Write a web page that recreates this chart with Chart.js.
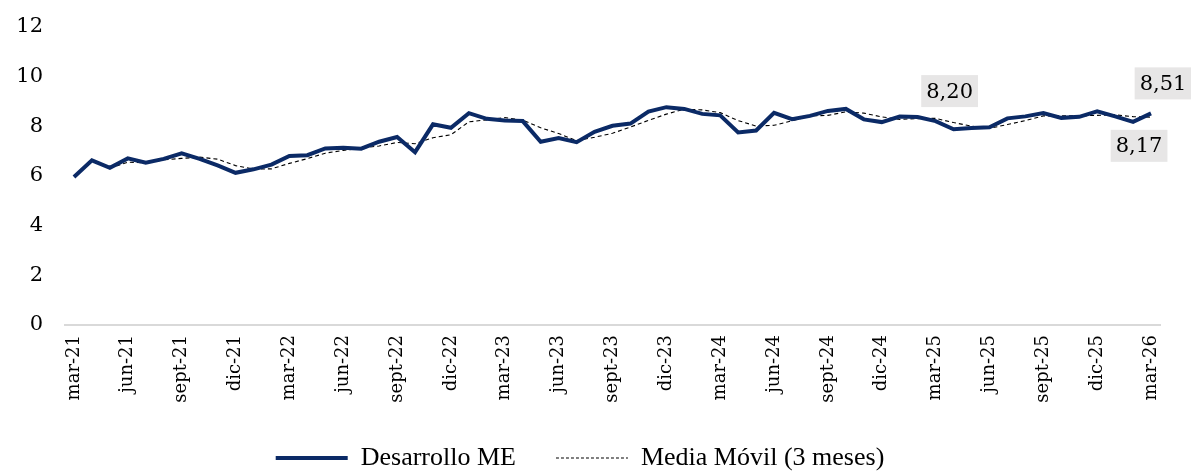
<!DOCTYPE html>
<html>
<head>
<meta charset="utf-8">
<script src="https://cdn.jsdelivr.net/npm/chart.js@4/dist/chart.umd.min.js"></script>
<style>
  html, body { margin: 0; padding: 0; background: #fff; }
  #wrap { width: 1191px; height: 472px; }
</style>
</head>
<body>
<div id="wrap"><canvas id="chart" width="1191" height="472"></canvas></div>
<script>
// Data
const months = ['ene', 'feb', 'mar', 'abr', 'may', 'jun', 'jul', 'ago', 'sept', 'oct', 'nov', 'dic'];
const labels = [];
for (let y = 21; y <= 26; y++) {
    months.forEach((m, k) => {
        if ((y === 21 && k < 2) || (y === 26 && k > 2)) return;
        labels.push(m + '-' + y);
    });
}

const desarrollo = [
    5.95, 6.62, 6.32, 6.70, 6.53, 6.68, 6.90, 6.68, 6.42, 6.12,
    6.26, 6.45, 6.80, 6.83, 7.10, 7.13, 7.09, 7.37, 7.56, 6.95,
    8.07, 7.93, 8.52, 8.29, 8.22, 8.20, 7.37, 7.52, 7.35, 7.77,
    8.01, 8.10, 8.58, 8.76, 8.69, 8.49, 8.43, 7.74, 7.82, 8.53,
    8.28, 8.41, 8.61, 8.69, 8.27, 8.16, 8.38, 8.36, 8.20, 7.87,
    7.92, 7.95, 8.31, 8.39, 8.52, 8.33, 8.37, 8.59, 8.39, 8.17,
    8.51
];

const mediaMovil = [
    null, null, 6.30, 6.55, 6.52, 6.64, 6.70, 6.75, 6.67, 6.41,
    6.27, 6.28, 6.50, 6.69, 6.91, 7.02, 7.11, 7.20, 7.34, 7.29,
    7.53, 7.65, 8.17, 8.25, 8.34, 8.24, 7.93, 7.70, 7.41, 7.55,
    7.71, 7.96, 8.23, 8.48, 8.68, 8.65, 8.54, 8.22, 8.00, 8.03,
    8.21, 8.41, 8.43, 8.57, 8.52, 8.37, 8.27, 8.30, 8.31, 8.14,
    8.00, 7.91, 8.06, 8.22, 8.41, 8.41, 8.41, 8.43, 8.45, 8.38,
    8.36
];

const yTicks = [0, 2, 4, 6, 8, 10, 12];

// Labelled points: index, text, offset
const callouts = [
    { i: 48, text: '8,20', dx: 14, dy: -30 },
    { i: 59, text: '8,17', dx: 6, dy: 24 },
    { i: 60, text: '8,51', dx: 12, dy: -30 }
];

const serif = "'DejaVu Serif', serif";

const calloutPlugin = {
    id: 'callouts',
    afterDatasetsDraw(chart) {
        const ctx = chart.ctx;
        const pts = chart.getDatasetMeta(0).data;
        ctx.save();
        ctx.font = '21px ' + serif;
        ctx.textAlign = 'center';
        ctx.textBaseline = 'middle';
        callouts.forEach(c => {
            const p = pts[c.i];
            const x = p.x + c.dx;
            const y = p.y + c.dy;
            const w = ctx.measureText(c.text).width + 10;
            const h = 32;
            ctx.fillStyle = '#e7e6e6';
            ctx.fillRect(x - w / 2, y - h / 2, w, h);
            ctx.fillStyle = '#000';
            ctx.fillText(c.text, x, y + 1);
        });
        ctx.restore();
    }
};

new Chart(document.getElementById('chart'), {
    type: 'line',
    data: {
        labels: labels,
        datasets: [
            {
                label: 'Desarrollo ME',
                data: desarrollo,
                borderColor: '#0b2a66',
                backgroundColor: '#0b2a66',
                borderWidth: 4,
                pointRadius: 0,
                tension: 0
            },
            {
                label: 'Media Móvil (3 meses)',
                data: mediaMovil,
                borderColor: '#000',
                backgroundColor: '#000',
                borderWidth: 1.1,
                borderDash: [4, 3],
                pointRadius: 0,
                tension: 0
            }
        ]
    },
    options: {
        responsive: false,
        animation: false,
        layout: { padding: { top: 1, right: 31, left: 0, bottom: -9 } },
        plugins: {
            legend: {
                position: 'bottom',
                labels: {
                    usePointStyle: true,
                    pointStyle: 'line',
                    pointStyleWidth: 72,
                    padding: 40,
                    color: '#000',
                    font: { family: "'Liberation Serif', serif", size: 26, lineHeight: 1 },
                    generateLabels: chart =>
                        Chart.defaults.plugins.legend.labels.generateLabels(chart).map((l, i) => ({
                            ...l,
                            lineDash: i === 1 ? [3, 2] : []
                        }))
                }
            },
            tooltip: { enabled: false }
        },
        scales: {
            x: {
                offset: true,
                afterFit: s => { s.height = 80; },
                grid: { display: false, drawTicks: false },
                border: { display: true, color: '#d9d9d9', width: 2 },
                ticks: {
                    autoSkip: false,
                    maxRotation: 90,
                    minRotation: 90,
                    padding: 10,
                    color: '#000',
                    font: { family: serif, size: 18 },
                    callback: (v, i) => (i % 3 === 0 ? labels[i] : '')
                }
            },
            y: {
                min: 0,
                max: 12,
                afterFit: s => { s.width = 65; },
                afterBuildTicks: s => { s.ticks = yTicks.map(v => ({ value: v })); },
                grid: { display: false },
                border: { display: false },
                ticks: {
                    padding: 14,
                    color: '#000',
                    font: { family: serif, size: 21 }
                }
            }
        }
    },
    plugins: [calloutPlugin]
});
</script>
</body>
</html>
